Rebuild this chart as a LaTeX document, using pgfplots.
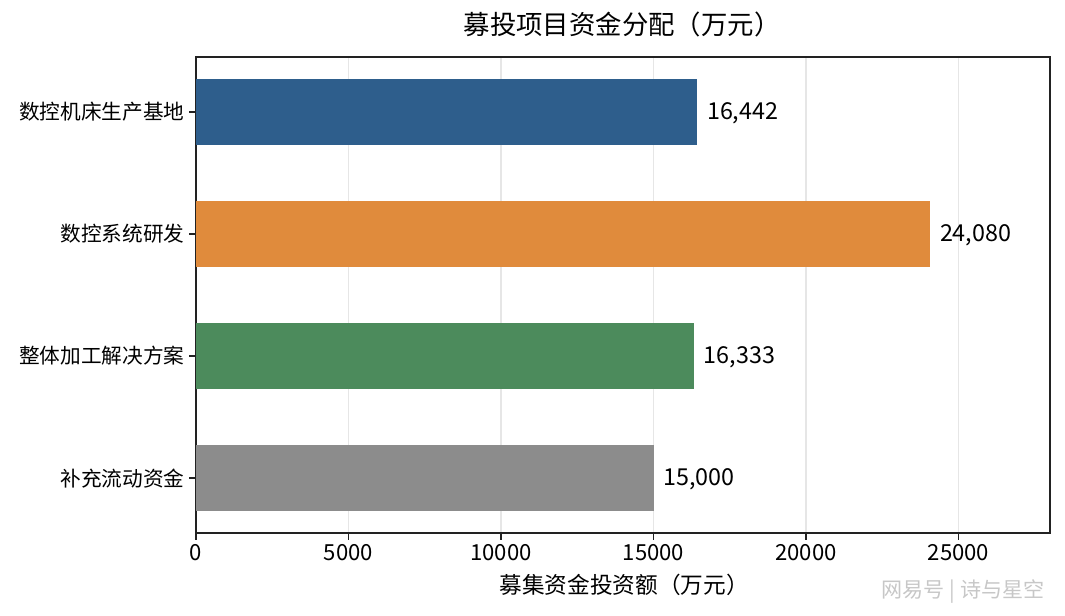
\documentclass[border=0pt]{standalone}
\usepackage{fontspec}
\setmainfont{Noto Sans CJK SC}
\usepackage{pgfplots}
\pgfplotsset{compat=1.18}
\definecolor{cblue}{HTML}{2E5E8C}
\definecolor{corange}{HTML}{E08B3C}
\definecolor{cgreen}{HTML}{4C8B5C}
\definecolor{cgray}{HTML}{8C8C8C}
\definecolor{axisc}{HTML}{222222}
\definecolor{gridc}{HTML}{E6E6E6}
\begin{document}
\begin{tikzpicture}[x=0.75pt,y=0.75pt]
\useasboundingbox (0,0) rectangle (1065,615);
\begin{axis}[
  at={(196pt*0.75,82pt*0.75)}, anchor=south west,
  scale only axis, width=640.5pt, height=357pt,
  xbar, bar width=0.54,
  xmin=0, xmax=28000,
  ymin=-0.45, ymax=3.45,
  y dir=reverse,
  ytick={0,1,2,3},
  yticklabels={数控机床生产基地,数控系统研发,整体加工解决方案,补充流动资金},
  xtick={0,5000,10000,15000,20000,25000},
  xtick pos=bottom, ytick pos=left,
  scaled x ticks=false,
  /pgf/number format/assume math mode=true,
  xticklabel style={/pgf/number format/1000 sep={}, font=\fontsize{16.6}{18}\selectfont},
  yticklabel style={font=\fontsize{15.5}{18}\selectfont},
  tick align=outside,
  major tick length=5pt,
  tick style={axisc, line width=0.9pt},
  axis line style={axisc, line width=1.1pt},
  xmajorgrids, grid style={gridc, line width=0.8pt},
  ymajorgrids=false,
  nodes near coords={\pgfmathprintnumber[1000 sep={,},assume math mode=true]{\pgfplotspointmeta}},
  nodes near coords style={font=\fontsize{17.5}{18}\selectfont, anchor=west, inner sep=0pt, xshift=7pt, yshift=-1pt, color=black},
  point meta=explicit,
]
\addplot[draw=none, fill=cblue, bar shift=0pt] coordinates {(16442,0) [16442]};
\addplot[draw=none, fill=corange, bar shift=0pt] coordinates {(24080,1) [24080]};
\addplot[draw=none, fill=cgreen, bar shift=0pt] coordinates {(16333,2) [16333]};
\addplot[draw=none, fill=cgray, bar shift=0pt] coordinates {(15000,3) [15000]};
\end{axis}
\node[font=\fontsize{19.8}{22}\selectfont] at (622,591) {募投项目资金分配（万元）};
\node[font=\fontsize{17}{20}\selectfont] at (624,30) {募集资金投资额（万元）};
\node[font=\fontsize{15.8}{18}\selectfont, text=black!22, anchor=east] at (1049,23) {网易号 | 诗与星空};
\end{tikzpicture}
\end{document}
